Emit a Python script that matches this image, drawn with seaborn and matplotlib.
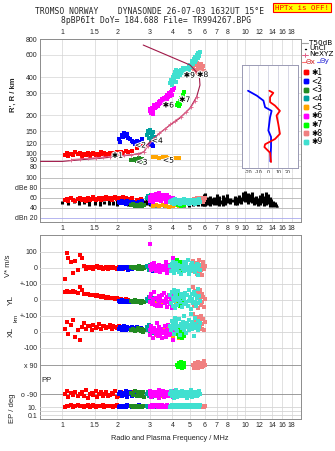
import numpy as np
import pandas as pd
import matplotlib.pyplot as plt
import seaborn as sns
from matplotlib.ticker import FixedLocator, FixedFormatter, NullLocator
from matplotlib.lines import Line2D
import matplotlib.patheffects as pe

sns.set_style("white")
plt.rcParams['font.family'] = ['Liberation Sans', 'DejaVu Sans']

W, H = 335, 451

# ---------------------------------------------------------------------------
# data
# ---------------------------------------------------------------------------
class_colors = ['#ff0000', '#0000ff', '#228b22', '#00a0a0', '#ffa500',
                '#ff00ff', '#00ff00', '#f08080', '#40e0d0']
class_labels = ['✱1', '<2', '<3', '<4', '<5', '✱6', '✱7', '✱8', '✱9']

# class 1 (red)
f1 = [1.03, 1.06, 1.08, 1.12, 1.15, 1.18, 1.22, 1.25, 1.28, 1.32, 1.35, 1.38, 1.42, 1.45, 1.48, 1.52, 1.55, 1.58,
      1.62, 1.66, 1.70, 1.74, 1.78, 1.82, 1.86, 1.90, 1.95, 2.00, 2.05, 2.10, 2.16, 2.22, 2.30, 2.40, 2.55, 2.70]
r1 = [98, 102, 96, 100, 97, 103, 99, 101, 95, 100, 98, 102, 96, 99, 101, 97, 100, 98,
      103, 99, 101, 96, 100, 102, 98, 101, 99, 103, 100, 104, 101, 105, 103, 106, 110, 115]
db1 = [56, 58, 54, 60, 57, 55, 59, 61, 56, 58, 55, 60, 57, 59, 62, 56, 58, 61,
       57, 60, 58, 63, 59, 61, 57, 60, 62, 58, 61, 59, 63, 60, 58, 61, 57, 59]
v1 = [-70, 92, 60, 35, -30, 45, -15, 80, 60, 10, -5, 5, 0, 8, -6, 4, 12, -3,
      5, -8, 2, 6, -4, 3, -2, 7, 0, -5, 4, 2, -6, 3, -3, 5, 0, 2]
yl1 = [50, 55, 48, 52, 56, 47, 45, 80, 60, 40, 35, 38, 30, 32, 28, 25, 30, 22,
       20, 24, 18, 15, 20, 12, 15, 10, 8, 12, 5, 6, 2, 4, 0, -5, -8, -10]
xl1 = [20, 60, -10, 45, 75, -30, 10, -50, 30, 55, 20, 40, 35, 15, 45, 25, 30, 50,
       20, 35, 40, 25, 30, 45, 20, 35, 30, 25, 40, 20, 30, 25, 20, 15, 10, 15]
pp1 = [-90, -70, -110, -85, -95, -75, -105, -90, -80, -100, -65, -115, -90, -85, -95, -70, -110, -90,
       -80, -100, -90, -75, -105, -95, -85, -90, -70, -110, -100, -80, -90, -95, -85, -75, -105, -90]
ep1 = [12, 20, 15, 25, 10, 18, 30, 14, 22, 12, 16, 28, 11, 19, 24, 13, 17, 21,
       15, 26, 12, 18, 23, 14, 20, 11, 16, 25, 13, 19, 22, 15, 17, 12, 20, 14]

# class 2 (blue)
f2 = [2.05, 2.08, 2.12, 2.15, 2.18, 2.22, 2.26, 2.30, 2.35, 2.40, 2.45, 2.50, 2.56, 2.62, 2.68, 2.74, 3.02, 3.08, 3.14]
r2 = [130, 124, 140, 135, 145, 138, 142, 134, 130, 127, 124, 120, 126, 118, 124, 130, 118, 122, 116]
db2 = [52, 50, 54, 51, 53, 49, 55, 50, 52, 48, 53, 51, 49, 52, 50, 54, 51, 49, 53]
v2 = [-5, 3, -8, 0, 6, -3, 4, -10, 2, -6, 5, -2, 8, -4, 0, 3, -7, 2, -20]
yl2 = [-5, -10, -2, -8, -12, -6, -15, -4, -10, -8, -14, -6, -12, -9, -16, -10, -5, -8, -3]
xl2 = [20, 30, 15, 25, 35, 10, 28, 18, 22, 32, 12, 26, 30, 16, 24, 20, 15, 25, 10]
pp2 = [-90, -75, -105, -85, -95, -70, -110, -90, -80, -100, -90, -85, -95, -75, -105, -90, -80, -100, -90]
ep2 = [12, 18, 10, 22, 15, 11, 25, 14, 19, 12, 16, 20, 13, 24, 11, 17, 14, 21, 15]

# class 3 (green)
f3 = [2.38, 2.44, 2.50, 2.55, 2.60, 2.64, 2.68, 2.72, 2.76, 2.80]
r3 = [90, 89, 91, 88, 90, 92, 89, 91, 88, 90]
db3 = [46, 48, 45, 47, 44, 46, 48, 45, 47, 46]
v3 = [5, -3, 8, 0, -6, 10, 2, -4, 6, -2]
yl3 = [-5, -12, -2, -15, -8, -10, -18, -6, -12, -14]
xl3 = [10, 20, 5, 15, 25, 12, 8, 18, 0, 14]
pp3 = [-85, -95, -70, -105, -90, -80, -100, -90, -75, -110]
ep3 = [14, 10, 20, 12, 16, 11, 22, 13, 18, 15]

# class 4 (teal)
f4 = [2.92, 2.95, 2.98, 3.00, 3.03, 3.06, 3.10, 3.14, 3.18, 3.22]
r4 = [140, 150, 132, 145, 155, 128, 138, 148, 130, 135]
db4 = [60, 64, 58, 62, 56, 66, 60, 63, 57, 61]
v4 = [15, 5, -10, 20, 0, 8, -5, 12, -15, 3]
yl4 = [5, -8, 20, -4, 10, -12, 0, -6, 15, -2]
xl4 = [30, 10, 45, 20, -15, 35, 5, 25, -5, 15]
pp4 = [-90, -80, -100, -70, -95, -85, -110, -90, -75, -100]
ep4 = [15, 11, 22, 13, 18, 10, 25, 14, 12, 20]

# class 5 (orange)
f5 = [3.12, 3.25, 3.40, 3.55, 3.70, 3.85, 4.05, 4.20, 4.35]
r5 = [94, 95, 93, 94, 95, 93, 92, 93, 92]
db5 = [45, 47, 44, 46, 45, 43, 44, 46, 45]
v5 = [-5, 8, 0, -10, 5, -3, 6, -8, 2]
yl5 = [-10, -20, -5, -15, 0, -12, -8, -18, -6]
xl5 = [10, -20, 5, 15, -10, 20, -30, 0, -40]
pp5 = [-90, -95, -85, -100, -80, -90, -95, -85, -90]
ep5 = [12, 16, 10, 20, 14, 11, 18, 13, 15]

# class 6 (magenta)
f6 = [3.00, 3.03, 3.06, 3.10, 3.13, 3.17, 3.20, 3.24, 3.28, 3.32, 3.36, 3.40, 3.44, 3.48, 3.52,
      3.56, 3.60, 3.64, 3.68, 3.72, 3.76, 3.80, 3.84, 3.88, 3.92, 3.96, 4.00, 4.05, 4.10, 3.15]
r6 = [215, 225, 210, 230, 222, 240, 228, 235, 248, 238, 255, 245, 262, 250, 268,
      258, 275, 262, 282, 270, 290, 278, 298, 285, 305, 292, 315, 320, 330, 205]
db6 = [55, 62, 58, 66, 52, 64, 60, 68, 56, 63, 70, 58, 65, 54, 61,
       67, 59, 64, 52, 60, 66, 57, 63, 55, 61, 58, 53, 60, 56, 65]
v6 = [148, 10, -15, 25, -5, 30, 0, -20, 15, -10, 5, 20, -25, 8, -8,
      12, -15, 3, 40, -30, 10, -5, 18, -12, 6, -20, 2, 64, -8, 15]
yl6 = [20, -10, 35, -25, 5, 50, -30, 15, -40, 0, 25, -15, 10, -35, 30,
       -5, 45, -20, 8, -45, 18, -12, 28, -28, 3, -50, 12, -8, 22, -18]
xl6 = [15, -20, 40, 0, -35, 25, 10, -10, 55, -25, 5, 30, -15, 20, -40,
       8, -5, 35, -30, 12, -8, 45, -18, 2, 28, -12, 18, -50, 6, -2]
pp6 = [-90, -70, -110, -85, -95, -75, -105, -90, -80, -100, -65, -115, -90, -85, -95,
       -70, -110, -90, -80, -100, -90, -75, -105, -95, -85, -90, -70, -110, -100, -80]
ep6 = [12, 20, 15, 25, 10, 18, 30, 14, 22, 12, 16, 28, 11, 19, 24,
       13, 17, 21, 15, 26, 12, 18, 23, 14, 20, 11, 16, 25, 13, 19]

# class 7 (lime)
f7 = [4.25, 4.30, 4.35, 4.38, 4.42, 4.46, 4.50, 4.55, 4.60, 4.65]
r7 = [240, 250, 236, 262, 248, 275, 258, 290, 305, 270]
db7 = [48, 46, 50, 47, 49, 45, 48, 50, 46, 47]
v7 = [50, 20, -10, 35, 0, -25, 15, 40, -5, 10]
yl7 = [10, 30, -20, 15, -35, 5, 25, -10, 20, 0]
xl7 = [-10, 15, -30, 5, -20, 25, -40, -5, 10, -25]
pp7 = [90, 75, 105, 85, 95, 110, 70, 90, 100, 80]
ep7 = [14, 10, 18, 12, 22, 11, 16, 13, 20, 15]

# class 8 (salmon)
f8 = [5.20, 5.28, 5.35, 5.42, 5.48, 5.55, 5.60, 5.66, 5.72, 5.78, 5.84, 5.90, 5.95, 6.00, 5.50, 5.70]
r8 = [470, 440, 500, 455, 520, 430, 480, 445, 505, 460, 430, 490, 450, 440, 470, 425]
db8 = [55, 58, 53, 60, 56, 59, 54, 57, 61, 55, 58, 52, 56, 60, 57, 59]
v8 = [45, -20, 30, -40, 10, -10, 50, -30, 20, 0, -45, 35, -5, 15, 25, -15]
yl8 = [80, -40, 55, -20, 30, -50, 10, 65, -30, 40, -10, 20, -45, 5, 50, -25]
xl8 = [110, 60, 85, 30, 95, 15, 70, 40, 100, 20, 50, 80, 10, 65, 45, 90]
pp8 = [90, 70, 105, 85, 95, 110, 75, 90, 100, 80, 95, 85, 115, 90, 70, 100]
ep8 = [12, 16, 10, 20, 14, 11, 18, 13, 15, 22, 12, 17, 10, 19, 14, 11]

# class 9 (turquoise)
f9 = [3.90, 3.95, 4.00, 4.02, 4.05, 4.08, 4.10, 4.12, 4.15, 4.18, 4.20, 4.25, 4.30, 4.35, 4.40, 4.45, 4.50, 4.55, 4.60, 4.65,
      4.70, 4.75, 4.80, 4.85, 4.90, 4.95, 5.00, 5.05, 5.10, 5.15, 5.20, 5.25, 5.30, 5.35, 5.40, 5.45, 5.50, 5.55, 5.60, 5.65]
r9 = [360, 380, 350, 400, 370, 420, 390, 440, 410, 365, 455, 430, 400, 445, 420, 460, 435, 470, 450, 430,
      460, 475, 445, 470, 490, 455, 500, 480, 520, 540, 510, 560, 530, 580, 550, 600, 570, 620, 590, 630]
db9 = [52, 55, 50, 57, 53, 49, 56, 51, 58, 54, 50, 55, 52, 57, 49, 53, 56, 51, 54, 58,
       50, 55, 52, 57, 53, 49, 56, 51, 54, 50, 57, 52, 55, 49, 53, 56, 51, 54, 58, 52]
v9 = [10, -20, 25, -5, 40, -30, 5, 15, -15, 30, -10, 0, 20, -25, 8, -40, 12, -8, 35, -18,
      3, 22, -12, 50, -35, 6, -22, 18, -3, 28, -14, 9, -28, 14, -6, 24, -45, 2, 16, -10]
yl9 = [30, -20, 50, -40, 10, 65, -5, 25, -50, 40, 0, -30, 55, 15, -15, 35, -45, 20, 5, -25,
       45, -10, 30, -35, 60, -5, 18, -55, 38, 8, -22, 48, -12, 28, -40, 12, 70, -18, 22, -8]
xl9 = [40, 15, 70, 25, 55, -10, 45, 30, 90, 20, 60, 5, 35, 80, -20, 50, 25, 65, 10, 100,
       40, -5, 55, 30, 75, 15, 45, 115, 20, 60, 35, -25, 50, 85, 25, 40, 10, 70, 30, 55]
pp9 = [-90, -70, -105, -85, -95, -115, -80, -90, -100, -65, -90, -110, -75, -95, -85, -100, -70, -90, -105, -80,
       -95, -90, -115, -75, -85, -100, -90, -65, -110, -80, -95, -85, -100, -75, -90, -105, -80, -95, -70, -90]
ep9 = [12, 18, 25, 10, 15, 30, 14, 20, 11, 22, 16, 28, 13, 19, 35, 12, 17, 24, 15, 21,
       10, 26, 14, 18, 32, 11, 20, 15, 23, 13, 27, 16, 12, 19, 24, 14, 21, 17, 11, 25]

# unclassified echo amplitude range (black)
f_unc = [1.00, 1.08, 1.16, 1.24, 1.32, 1.40, 1.50, 1.60, 1.70, 1.80, 1.90, 2.00, 2.10, 2.20, 2.30, 2.40, 2.50, 2.60,
         2.70, 2.80, 2.90, 3.00, 3.20, 3.40, 3.60, 3.80, 4.00, 4.30, 4.60, 4.90, 5.20, 5.50, 5.80, 5.95, 6.05, 6.15,
         6.30, 6.45, 6.60, 6.75, 6.90, 7.05, 7.20, 7.40, 7.60, 7.80, 8.00, 8.25, 8.50, 8.75, 9.00, 9.25, 9.50, 9.75,
         10.0, 10.3, 10.6, 10.9, 11.2, 11.5, 11.8, 12.1, 12.4, 12.7, 13.0, 13.3, 13.6, 13.9, 14.2, 14.5, 14.8, 15.0]
lo_unc = [48, 47, 50, 46, 48, 45, 47, 44, 48, 46, 47, 45, 48, 46, 44, 47, 45, 46, 43, 45, 47, 44, 43, 42,
          43, 44, 42, 43, 42, 43, 44, 45, 44, 45, 44, 46, 52, 45, 48, 47, 50, 46, 44, 48, 45, 47, 50, 48,
          52, 47, 46, 50, 48, 55, 52, 48, 53, 50, 46, 49, 45, 47, 50, 44, 46, 48, 43, 45, 42, 44, 42, 42]
hi_unc = [54, 55, 53, 56, 54, 57, 55, 56, 54, 58, 55, 57, 56, 58, 54, 57, 55, 58, 54, 56, 58, 55, 48, 47,
          48, 47, 46, 47, 48, 47, 49, 50, 52, 68, 70, 62, 58, 65, 60, 63, 57, 68, 64, 56, 66, 62, 69, 60,
          58, 64, 62, 66, 63, 72, 75, 70, 68, 73, 62, 65, 60, 66, 70, 64, 72, 68, 62, 58, 54, 52, 48, 44]

# profile curve and NeXYZ trace
prof_f = [0.76, 1.0, 1.3, 1.6, 2.0, 2.4, 2.7, 2.8, 2.85, 2.82, 2.9, 3.0, 3.42, 3.88, 4.4, 5.0, 5.43, 5.66, 5.61, 5.0, 2.77]
prof_r = [87, 87, 90, 92, 95, 98, 101, 104, 108, 112, 117, 123, 146, 168, 191, 229, 281, 347, 416, 499, 717]
ne_f = [1.12, 1.25, 1.38, 1.52, 1.66, 1.82, 2.0, 2.18, 2.38, 2.6, 2.8, 2.95, 3.15, 3.4, 3.65, 3.9, 4.15, 4.45, 4.75, 5.05, 5.3, 5.43]
ne_r = [90, 91, 92, 93, 94, 95, 96, 97, 98, 100, 104, 115, 130, 145, 157, 170, 182, 196, 212, 232, 258, 281]

# echo label positions
lab_f = [2.0, 2.67, 2.72, 3.3, 3.8, 3.8, 4.67, 5.85, 4.95]
lab_r = [97, 117, 86, 127, 89, 242, 267, 420, 416]

# tilt profiles
tx_h = [317, 305, 282, 258, 242, 220, 202, 174, 145, 132, 120, 114, 103, 87]
tx_v = [1, 5, 1.7, 1.7, 6.7, 11.7, 8.3, 10, 11.7, 6.7, -3.3, -4, 1.7, 2.7]
ty_h = [317, 290, 265, 235, 220, 196, 154, 137, 114, 88]
ty_v = [-20.6, -11.7, -5, -3.3, 3.3, 1.7, 0, 2.7, 2.7, 2]

f_all = [f1, f2, f3, f4, f5, f6, f7, f8, f9]
r_all = [r1, r2, r3, r4, r5, r6, r7, r8, r9]
db_all = [db1, db2, db3, db4, db5, db6, db7, db8, db9]
v_all = [v1, v2, v3, v4, v5, v6, v7, v8, v9]
yl_all = [yl1, yl2, yl3, yl4, yl5, yl6, yl7, yl8, yl9]
xl_all = [xl1, xl2, xl3, xl4, xl5, xl6, xl7, xl8, xl9]
pp_all = [pp1, pp2, pp3, pp4, pp5, pp6, pp7, pp8, pp9]
ep_all = [ep1, ep2, ep3, ep4, ep5, ep6, ep7, ep8, ep9]

xt_top = [1, 1.5, 2, 3, 4, 5, 6, 7, 8, 10, 12, 14, 16, 18]
xt_mid = [1, 1.5, 2, 3, 4, 5, 6, 7, 8, 9, 10, 12, 14, 16, 18]
r_ticks = [80, 90, 100, 120, 150, 200, 300, 400, 600, 800]

GRID = '#d4d4d4'
FS = 5
MS = 7


def box(l, t, r, b):
    return [l / W, 1 - b / H, (r - l) / W, (b - t) / H]


def freq_axis(ax, labels):
    ax.set_xscale('log')
    ax.set_xlim(0.755, 20.2)
    ax.xaxis.set_major_locator(FixedLocator(xt_mid))
    ax.xaxis.set_minor_locator(NullLocator())
    ax.xaxis.set_major_formatter(FixedFormatter(
        [(f'{t:g}' if t in labels else '') for t in xt_mid]))
    ax.tick_params(axis='both', length=0, labelsize=FS, pad=2)
    ax.grid(True, color=GRID, lw=0.5)
    ax.set_axisbelow(True)
    for s in ax.spines.values():
        s.set_color('#8c8c8c')
        s.set_linewidth(0.7)


def scat(ax, xs, ys, c, s=MS):
    sns.scatterplot(x=xs, y=ys, color=c, marker='s', s=s, linewidth=0,
                    ax=ax, legend=False, zorder=3)


fig = plt.figure(figsize=(W / 100, H / 100), dpi=100)

# ---------------------------------------------------------------------------
# ionogram
# ---------------------------------------------------------------------------
ax_ion = fig.add_axes(box(40, 39, 301, 173))
freq_axis(ax_ion, xt_top)
ax_ion.xaxis.tick_top()
ax_ion.set_yscale('log')
ax_ion.set_ylim(70.5, 800)
ax_ion.yaxis.set_major_locator(FixedLocator(r_ticks))
ax_ion.yaxis.set_minor_locator(NullLocator())
ax_ion.yaxis.set_major_formatter(FixedFormatter([str(t) for t in r_ticks]))
ax_ion.spines['bottom'].set_visible(False)

for k in range(9):
    scat(ax_ion, f_all[k], r_all[k], class_colors[k])
ax_ion.plot(prof_f, prof_r, color='#a01848', lw=0.8, zorder=4)
ax_ion.plot(ne_f, ne_r, color='#e06088', lw=0.7, marker='+', ms=3, mew=0.6, zorder=4)
for t, fx, ry in zip(class_labels, lab_f, lab_r):
    ax_ion.text(fx, ry, t, fontsize=5.5, ha='center', va='center', color='black', zorder=6,
                family=['DejaVu Sans'],
                path_effects=[pe.withStroke(linewidth=1.5, foreground='white')])

# tilt inset
ax_t = fig.add_axes(box(242, 65, 298, 168))
ax_t.set_facecolor('white')
ax_t.set_xlim(-26.7, 30)
ax_t.set_yscale('log')
ax_t.set_ylim(78, 506)
ax_t.set_yticks([])
ax_t.yaxis.set_minor_locator(NullLocator())
ax_t.set_xticks([-20, -10, 0, 10, 20])
ax_t.set_xticklabels(['-20', '-10', '0', '10', '20'])
ax_t.tick_params(length=0, labelsize=3.8, pad=1.5)
ax_t.grid(True, axis='x', color='#c8c8dc', lw=0.5)
for s in ax_t.spines.values():
    s.set_color('#9a9ab4')
    s.set_linewidth(0.7)
ax_t.set_xlabel('Tilt / deg', fontsize=4, labelpad=1)
sns.lineplot(x=ty_v, y=ty_h, sort=False, estimator=None, color='#0000ff', lw=1.3, ax=ax_t)
sns.lineplot(x=tx_v, y=tx_h, sort=False, estimator=None, color='#ff0000', lw=1.3, ax=ax_t)

# ---------------------------------------------------------------------------
# amplitude panel
# ---------------------------------------------------------------------------
ax_db = fig.add_axes(box(40, 173, 301, 222))
freq_axis(ax_db, xt_mid)
ax_db.set_ylim(12, 110)
ax_db.set_yticks([20, 40, 60, 80, 100])
ax_db.set_yticklabels(['dBn 20', '40', '60', 'dBe 80', '100'])
ax_db.grid(True, axis='y', color='#b4b4b4', lw=0.6)
ax_db.get_ygridlines()[0].set_color('#aaaaee')
ax_db.spines['top'].set_visible(False)
ax_db.vlines(f_unc, lo_unc, hi_unc, color='black', lw=2.2, zorder=2)
for k in range(9):
    scat(ax_db, f_all[k], db_all[k], class_colors[k])

# ---------------------------------------------------------------------------
# Doppler / location / polarization panel
# ---------------------------------------------------------------------------
low_box = box(40, 235, 301, 419)
ax_low = fig.add_axes(low_box)
freq_axis(ax_low, xt_top)
ax_low.set_yticks([])
ax_low.set_ylim(0, 1)


def overlay(ylim, ticks, labels, gcolor=GRID, log=False):
    ax = fig.add_axes(low_box, sharex=ax_low)
    ax.patch.set_visible(False)
    for s in ax.spines.values():
        s.set_visible(False)
    if log:
        ax.set_yscale('log')
        ax.yaxis.set_minor_locator(NullLocator())
    ax.set_ylim(*ylim)
    ax.yaxis.set_major_locator(FixedLocator(ticks))
    ax.yaxis.set_major_formatter(FixedFormatter(labels))
    ax.tick_params(axis='x', bottom=False, labelbottom=False)
    ax.tick_params(axis='y', length=0, labelsize=FS, pad=2)
    ax.grid(True, axis='y', color=gcolor, lw=0.6)
    ax.grid(False, axis='x')
    return ax


ax_pp = overlay((-245, 897), [90, -90], ['x 90', 'o -90'], gcolor='#8c8c8c')
ax_ep = overlay((0.01, 1e44), [10, 1, 0.1], ['10.', '', '0.1'], log=True)
ax_xl = overlay((-544, 606), [100, 0, -100], ['+-100', '0', '-100'])
ax_yl = overlay((-744, 406), [100, 0], ['+-100', '0'])
ax_v = overlay((-944, 206), [100, 0], ['100', '0'])

for k in range(9):
    c = class_colors[k]
    scat(ax_pp, f_all[k], pp_all[k], c)
    scat(ax_ep, f_all[k], ep_all[k], c)
    scat(ax_xl, f_all[k], xl_all[k], c)
    scat(ax_yl, f_all[k], yl_all[k], c)
    scat(ax_v, f_all[k], v_all[k], c)

for a in [ax_pp, ax_ep, ax_xl, ax_yl, ax_v]:
    a.set_xlim(0.755, 20.2)

# ---------------------------------------------------------------------------
# texts, legend
# ---------------------------------------------------------------------------
mono = ['DejaVu Sans Mono']
fig.text(150 / W, 1 - 12 / H, 'TROMSO NORWAY    DYNASONDE 26-07-03 1632UT 15°E',
         ha='center', va='center', fontsize=5.8, family=mono)
fig.text(156 / W, 1 - 20.5 / H, '8pBP6It DoY= 184.688 File= TR994267.BPG',
         ha='center', va='center', fontsize=5.8, family=mono)
fig.text(302 / W, 1 - 7.5 / H, 'HPTx is OFF!', ha='center', va='center', fontsize=5.4,
         family=mono, color='red',
         bbox=dict(facecolor='#ffff00', edgecolor='red', lw=0.8, pad=1.2))

fig.text(13 / W, 1 - 95 / H, "R', R / km", rotation=90, ha='center', va='center',
         fontsize=5.5, fontweight='bold')
fig.text(9 / W, 1 - 266 / H, 'V* m/s', rotation=90, ha='center', va='center', fontsize=5.5)
fig.text(11 / W, 1 - 300 / H, 'YL', rotation=90, ha='center', va='center', fontsize=6)
fig.text(16 / W, 1 - 318 / H, 'km', rotation=90, ha='center', va='center', fontsize=4.5)
fig.text(11 / W, 1 - 332 / H, 'XL', rotation=90, ha='center', va='center', fontsize=6)
fig.text(47 / W, 1 - 380 / H, 'PP', ha='center', va='center', fontsize=5.5)
fig.text(12 / W, 1 - 408 / H, 'EP / deg', rotation=90, ha='center', va='center', fontsize=5.5)
fig.text(170 / W, 1 - 438 / H, 'Radio and Plasma Frequency / MHz', ha='center',
         va='center', fontsize=5.3)


def fig_line(x0, x1, y, **kw):
    fig.add_artist(Line2D([x0 / W, x1 / W], [1 - y / H, 1 - y / H],
                          transform=fig.transFigure, **kw))


def fig_label(x, y, s, color='black', size=5.2):
    fig.text(x / W, 1 - y / H, s, ha='left', va='center', fontsize=size, color=color,
             family=['DejaVu Sans'])


fig_line(302, 308, 42.7, color='#a0a0a0', lw=0.8)
fig_label(309, 42.7, 'T50dB')
fig_line(305, 305.6, 48.5, color='black', lw=1)
fig_label(309, 48.5, 'UnCl')
fig_line(302, 308, 54.5, color='#e06088', lw=0.7)
fig_line(305, 305, 54.5, color='#e06088', marker='+', ms=3, mew=0.6)
fig_label(309, 54.5, 'NeXYZ')
fig_line(302, 306, 61.5, color='#ff7070', lw=0.8)
fig_label(306, 61.5, 'Θx', color='#d02020')
fig_line(317, 320, 61.5, color='#7070ff', lw=0.8)
fig_label(320, 61.5, 'Θy', color='#2020d0')
for i, (c, t) in enumerate(zip(class_colors, class_labels)):
    y = 72.3 + 8.7 * i
    fig_line(306, 306, y, color=c, marker='s', ms=2.8, lw=0)
    fig_label(311, y, t, size=5.5)

plt.savefig('out.png', dpi=100)
